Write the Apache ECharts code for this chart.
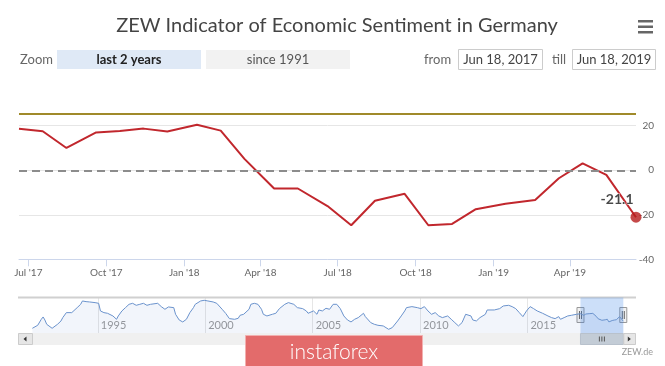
<!DOCTYPE html>
<html><head><meta charset="utf-8">
<script src="https://cdn.jsdelivr.net/npm/echarts@6/dist/echarts.min.js"></script>
<style>html,body{margin:0;padding:0;background:#fff}#c{width:665px;height:366px}</style>
</head><body><div id="c"></div>
<script>
// ---- data ----
const releaseDates = ['2017-06-20','2017-07-18','2017-08-15','2017-09-19','2017-10-17','2017-11-14','2017-12-12',
  '2018-01-16','2018-02-13','2018-03-13','2018-04-17','2018-05-15','2018-06-19','2018-07-17','2018-08-14','2018-09-18',
  '2018-10-16','2018-11-13','2018-12-11','2019-01-15','2019-02-19','2019-03-19','2019-04-16','2019-05-14','2019-06-18'];
const sentiment = [18.6, 17.5, 10.0, 17.0, 17.6, 18.7, 17.4, 20.4, 17.8, 5.1, -8.2, -8.2, -16.1, -24.7, -13.7, -10.6,
  -24.7, -24.1, -17.5, -15.0, -13.4, -3.6, 3.1, -2.1, -21.1];
const longTermAverage = 25.2;
const zeroLine = 0;
const xTickDates = ['2017-07-01','2017-10-01','2018-01-01','2018-04-01','2018-07-01','2018-10-01','2019-01-01','2019-04-01'];
const monthNames = ['Jan','Feb','Mar','Apr','May','Jun','Jul','Aug','Sep','Oct','Nov','Dec'];
const navDates = ['1991-12-15','1992-01-15','1992-03-15','1992-05-15','1992-06-15','1992-07-15','1992-08-15','1992-09-15','1992-11-15','1992-12-15',
  '1993-02-15','1993-04-15','1993-05-15','1993-07-15','1993-08-15','1993-10-15','1993-11-15','1994-01-15','1994-03-15','1994-04-15',
  '1994-06-15','1994-07-15','1994-08-15','1994-11-15','1995-01-15','1995-02-15','1995-04-15','1995-06-15','1995-07-15','1995-09-15',
  '1995-11-15','1995-12-15','1996-02-15','1996-04-15','1996-06-15','1996-08-15','1996-10-15','1996-12-15','1997-02-15','1997-04-15',
  '1997-06-15','1997-07-15','1997-10-15','1997-12-15','1998-02-15','1998-04-15','1998-05-15','1998-07-15','1998-08-15','1998-10-15',
  '1998-12-15','1999-02-15','1999-04-15','1999-06-15','1999-07-15','1999-10-15','1999-12-15','2000-02-15','2000-05-15','2000-07-15',
  '2000-10-15','2000-12-15','2001-02-15','2001-05-15','2001-07-15','2001-08-15','2001-10-15','2002-01-15','2002-02-15','2002-04-15',
  '2002-06-15','2002-08-15','2002-09-15','2002-11-15','2003-02-15','2003-04-15','2003-06-15','2003-09-15','2003-11-15','2004-02-15',
  '2004-04-15','2004-07-15','2004-09-15','2004-10-15','2005-01-15','2005-03-15','2005-04-15','2005-06-15','2005-08-15','2005-10-15',
  '2005-12-15','2006-02-15','2006-04-15','2006-06-15','2006-08-15','2006-10-15','2006-12-15','2007-02-15','2007-05-15','2007-06-15',
  '2007-09-15','2007-11-15','2008-01-15','2008-04-15','2008-05-15','2008-07-15','2008-09-15','2008-10-15','2008-12-15','2009-02-15',
  '2009-04-15','2009-05-15','2009-08-15','2009-11-15','2010-01-15','2010-03-15','2010-05-15','2010-07-15','2010-09-15','2010-11-15',
  '2011-01-15','2011-04-15','2011-06-15','2011-08-15','2011-10-15','2011-12-15','2012-02-15','2012-03-15','2012-05-15','2012-06-15',
  '2012-08-15','2012-10-15','2013-01-15','2013-02-15','2013-03-15','2013-06-15','2013-09-15','2013-11-15','2014-02-15','2014-04-15',
  '2014-06-15','2014-08-15','2014-10-15','2014-12-15','2015-02-15','2015-04-15','2015-06-15','2015-09-15','2015-12-15','2016-02-15',
  '2016-04-15','2016-06-15','2016-07-15','2016-09-15','2016-11-15','2017-01-15','2017-04-15'];
const navValues = [-58.6,-49.8,-42.7,-10.9,1.4,-14.5,-37.4,-39.2,-58.6,-55.0,
  -37.4,-19.8,-2.1,24.3,29.6,24.3,33.2,50.8,68.4,86.1,
  82.5,86.1,80.8,77.3,73.7,33.2,24.3,20.8,15.5,6.7,
  -10.9,6.7,33.2,50.8,68.4,73.7,63.1,68.4,73.7,63.1,
  68.4,64.9,73.7,56.1,42.0,54.3,63.1,50.8,15.5,-14.5,
  -25.1,-10.9,24.3,50.8,68.4,86.1,89.6,86.1,80.8,73.7,
  42.0,20.0,-7.4,-10.9,-5.7,10.2,15.5,42.0,68.4,73.7,
  68.4,42.0,15.5,6.7,15.5,20.8,45.5,68.4,77.3,68.4,
  50.8,45.5,33.2,20.8,33.2,15.5,38.4,33.2,47.3,42.0,
  68.4,68.4,45.5,6.7,-14.5,-25.1,-10.9,-2.1,20.8,3.2,
  -28.6,-37.4,-42.7,-46.2,-55.0,-63.9,-55.0,-46.2,-19.8,6.7,
  33.2,50.8,56.1,50.8,45.5,56.1,33.2,15.5,24.3,6.7,
  -2.1,6.7,-10.9,-28.6,-46.2,-28.6,15.5,24.3,6.7,-14.5,
  -19.8,-2.1,15.5,38.4,45.5,38.4,45.5,59.6,63.1,56.1,
  45.5,24.3,3.2,33.2,56.1,45.5,33.2,20.8,6.7,-2.1,
  -7.4,3.2,-10.9,-2.1,6.7,10.2,15.5];
const navYearTicks = ['1995-01-01','2000-01-01','2005-01-01','2010-01-01','2015-01-01'];
const navStart = '1991-04-15';
const navEnd = '2019-06-18';
const rangeFrom = 'Jun 18, 2017';
const rangeTill = 'Jun 18, 2019';
const titleText = 'ZEW Indicator of Economic Sentiment in Germany';

// ---- chart ----
const FONT = 'Lato, "Open Sans", sans-serif';
const P = s => { const a = s.split('-').map(Number); return Date.UTC(a[0], a[1] - 1, a[2]); };
const last = releaseDates.length - 1;
const mainData = releaseDates.map((d, i) => [P(d), sentiment[i]]);
const navData = navDates.map((d, i) => [P(d), navValues[i]]).concat(mainData);

const chart = echarts.init(document.getElementById('c'), null, {renderer: 'canvas', width: 665, height: 366});
chart.setOption({
  animation: false,
  textStyle: {fontFamily: FONT},
  grid: [
    {left: 19, right: 29, top: 81.2, height: 178.1},
    {left: 18, width: 605.3, top: 297.5, height: 35.5}
  ],
  xAxis: [
    {type: 'value', gridIndex: 0, min: P(releaseDates[0]), max: P(releaseDates[last]),
      axisLine: {show: true, onZero: false, lineStyle: {color: '#ccd6eb', width: 1}},
      axisTick: {show: true, customValues: xTickDates.map(P), length: 7, lineStyle: {color: '#ccd6eb'}},
      axisLabel: {customValues: xTickDates.map(P), color: '#666', fontSize: 10, margin: 8, hideOverlap: false,
        formatter: v => { const d = new Date(v); return monthNames[d.getUTCMonth()] + " '" + String(d.getUTCFullYear()).slice(2); }},
      splitLine: {show: false}},
    {type: 'value', gridIndex: 1, min: P(navStart), max: P(navEnd),
      axisLine: {show: false, onZero: false},
      axisTick: {show: false, customValues: navYearTicks.map(P)},
      axisLabel: {customValues: navYearTicks.map(P), inside: true, color: '#999', fontSize: 11, align: 'left',
        margin: 2, padding: [0, 0, 0, 3], formatter: v => String(new Date(v).getUTCFullYear())},
      splitLine: {show: true, lineStyle: {color: '#e6e6e6', width: 1}}}
  ],
  yAxis: [
    {type: 'value', gridIndex: 0, position: 'right', min: -40, max: 40, interval: 20,
      axisLine: {show: false}, axisTick: {show: false},
      axisLabel: {showMaxLabel: false, color: '#666', fontSize: 10, align: 'right', margin: 18},
      splitLine: {show: true, showMaxLine: false, lineStyle: {color: '#e6e6e6', width: 1}}},
    {type: 'value', gridIndex: 1, min: -83.5, max: 104.4, show: false, splitLine: {show: false}}
  ],
  series: [
    {type: 'line', xAxisIndex: 0, yAxisIndex: 0, data: mainData, symbol: 'none', silent: true, z: 1,
      lineStyle: {opacity: 0},
      markLine: {symbol: ['none', 'none'], silent: true, label: {show: false},
        data: [
          {yAxis: longTermAverage, lineStyle: {color: '#a08a2a', width: 2, type: 'solid'}},
          {yAxis: zeroLine, lineStyle: {color: '#8c8c8c', width: 2, type: [8, 5]}}
        ]}},
    {type: 'line', xAxisIndex: 0, yAxisIndex: 0, data: mainData, symbol: 'none', z: 3,
      lineStyle: {color: '#c1272d', width: 2}, itemStyle: {color: '#c1272d'}},
    {type: 'scatter', xAxisIndex: 0, yAxisIndex: 0, data: [mainData[last]], symbolSize: 11, z: 4,
      itemStyle: {color: '#b71c1c'},
      label: {show: true, formatter: p => p.value[1].toFixed(1), position: 'left', distance: 0, offset: [3, -18],
        fontWeight: 'bold', fontSize: 14, color: '#1a1a1a', textBorderColor: '#fff', textBorderWidth: 1}},
    {type: 'line', xAxisIndex: 1, yAxisIndex: 1, data: navData, symbol: 'none', silent: true,
      lineStyle: {color: '#6a92cc', width: 1},
      areaStyle: {color: 'rgba(69,114,200,0.07)', origin: 'start', opacity: 1},
      markArea: {silent: true, itemStyle: {color: 'rgba(51,128,230,0.25)'},
        data: [[{xAxis: P(releaseDates[0])}, {xAxis: P(releaseDates[last])}]]}}
  ]
});

const x0 = chart.convertToPixel({xAxisIndex: 1}, P(releaseDates[0]));
const x1 = chart.convertToPixel({xAxisIndex: 1}, P(releaseDates[last]));
const txt = (text, x, y, o) => ({type: 'text', x: x, y: y, silent: true,
  style: Object.assign({text: text, fontFamily: FONT, fontSize: 13, fill: '#666', align: 'left', verticalAlign: 'middle'}, o || {})});
const rect = (x, y, w, h, fill, stroke) => ({type: 'rect', silent: true, shape: {x: x, y: y, width: w, height: h},
  style: {fill: fill, stroke: stroke || null, lineWidth: 1}});
const line = (xa, ya, xb, yb, color, w) => ({type: 'line', silent: true, shape: {x1: xa, y1: ya, x2: xb, y2: yb},
  style: {stroke: color, lineWidth: w || 1}});
const handle = x => [rect(x - 3.5, 307.5, 7, 15, '#f2f2f2', '#999'), line(x - 1, 311, x - 1, 319, '#666'), line(x + 1, 311, x + 1, 319, '#666')];
const gx = (x0 + x1) / 2;

const g = [
  txt(titleText, 337, 26, {fontSize: 20, fill: '#444', align: 'center'}),
  rect(638, 20, 15, 2.5, '#666'), rect(638, 25.5, 15, 2.5, '#666'), rect(638, 31, 15, 2.5, '#666'),
  txt('Zoom', 20, 60, {fill: '#666'}),
  rect(57, 50, 144, 19, '#dfe9f6'), txt('last 2 years', 129, 60, {align: 'center', fill: '#222', fontWeight: 'bold'}),
  rect(206, 50, 144, 19, '#f2f2f2'), txt('since 1991', 278, 60, {align: 'center', fill: '#555'}),
  txt('from', 424, 60, {fill: '#666'}),
  rect(458.5, 49.5, 84, 20, '#fff', '#cccccc'), txt(rangeFrom, 500.5, 60, {align: 'center', fill: '#444'}),
  txt('till', 552, 60, {fill: '#666'}),
  rect(572.5, 49.5, 83, 20, '#fff', '#cccccc'), txt(rangeTill, 614, 60, {align: 'center', fill: '#444'}),
  line(18, 297.5, 636, 297.5, '#d0d0d0', 2),
  ...handle(x0), ...handle(x1),
  rect(18, 333, 618, 12, '#f0f0f0'),
  rect(18.5, 333.5, 14, 11, '#e6e6e6', '#cccccc'),
  {type: 'polygon', silent: true, shape: {points: [[23.5, 339], [26.5, 336.5], [26.5, 341.5]]}, style: {fill: '#333'}},
  rect(x0, 333.5, x1 - x0, 11, '#c3ccd6', '#b8c1cc'),
  line(gx - 2.5, 336.5, gx - 2.5, 341.5, '#555'), line(gx, 336.5, gx, 341.5, '#555'), line(gx + 2.5, 336.5, gx + 2.5, 341.5, '#555'),
  rect(x1 + 0.5, 333.5, 636 - x1 - 1, 11, '#e6e6e6', '#cccccc'),
  {type: 'polygon', silent: true, shape: {points: [[x1 + 7.5, 339], [x1 + 4.5, 336.5], [x1 + 4.5, 341.5]]}, style: {fill: '#333'}},
  txt('ZEW.de', 653, 352, {fontSize: 9, fill: '#999', align: 'right'}),
  rect(245.5, 335.5, 177, 31, '#e36b6b', '#f2b0b0'),
  txt('instaforex', 334, 352, {fontSize: 21, fill: '#ffffff', align: 'center', fontWeight: 300})
];
chart.setOption({graphic: g});
</script></body></html>
